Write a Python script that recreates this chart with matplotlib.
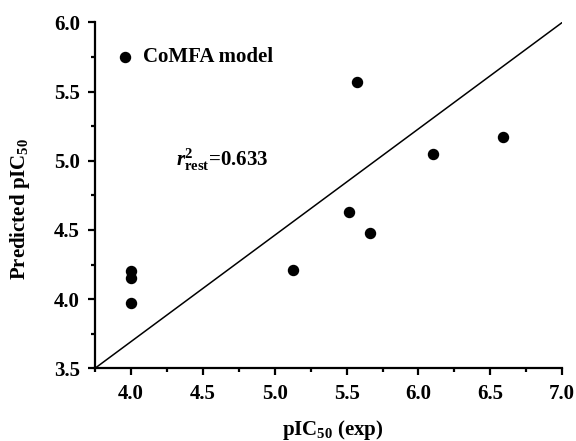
import matplotlib
matplotlib.use("Agg")
import matplotlib.pyplot as plt
from matplotlib.ticker import MultipleLocator, FormatStrFormatter

plt.rcParams['font.family'] = ['Liberation Serif', 'DejaVu Serif']
plt.rcParams['font.weight'] = 'bold'
plt.rcParams['mathtext.fontset'] = 'custom'
plt.rcParams['mathtext.rm'] = 'Liberation Serif:bold'
plt.rcParams['mathtext.it'] = 'Liberation Serif:italic:bold'
plt.rcParams['mathtext.bf'] = 'Liberation Serif:bold'

exp_vals = [4.0, 4.0, 4.0, 5.13, 5.52, 5.57, 5.66, 6.10, 6.59]
pred_vals = [4.20, 4.15, 3.97, 4.21, 4.63, 5.57, 4.48, 5.05, 5.17]
line_x = [3.75, 7.0]
line_y = [3.5, 6.0]

fig = plt.figure(figsize=(5.76, 4.41), dpi=100)
ax = fig.add_axes([0.165, 0.165, 0.811, 0.784])

ax.plot(line_x, line_y, color='black', lw=1.1)
ax.scatter(exp_vals, pred_vals, s=52, color='black', zorder=3)
ax.scatter([3.96], [5.75], s=52, color='black', zorder=3, clip_on=False)
ax.text(4.086, 5.75, 'CoMFA model', fontsize=15, fontweight='bold', va='center', ha='left')
ax.text(4.31, 5.01, r'$\mathit{r}^{2}_{\mathrm{rest}}$=0.633', fontsize=15, fontweight='bold', va='center', ha='left')

ax.set_xlim(3.75, 7.0)
ax.set_ylim(3.5, 6.0)
ax.xaxis.set_major_locator(MultipleLocator(0.5))
ax.xaxis.set_minor_locator(MultipleLocator(0.25))
ax.yaxis.set_major_locator(MultipleLocator(0.5))
ax.yaxis.set_minor_locator(MultipleLocator(0.25))
ax.xaxis.set_major_formatter(FormatStrFormatter('%.1f'))
ax.yaxis.set_major_formatter(FormatStrFormatter('%.1f'))

for s in ['top', 'right']:
    ax.spines[s].set_visible(False)
for s in ['left', 'bottom']:
    ax.spines[s].set_linewidth(1.6)
ax.tick_params(which='major', direction='out', length=5, width=1.6, labelsize=15, pad=6)
ax.tick_params(which='minor', direction='out', length=3, width=1.6)
for lab in ax.get_xticklabels() + ax.get_yticklabels():
    lab.set_fontweight('bold')

ax.set_xlabel(r'pIC$_{50}$ (exp)', fontsize=15, fontweight='bold')
ax.set_ylabel(r'Predicted pIC$_{50}$', fontsize=15, fontweight='bold')
ax.xaxis.set_label_coords(0.51, -0.145)
ax.yaxis.set_label_coords(-0.135, 0.46)

fig.savefig('out.png', dpi=100)
